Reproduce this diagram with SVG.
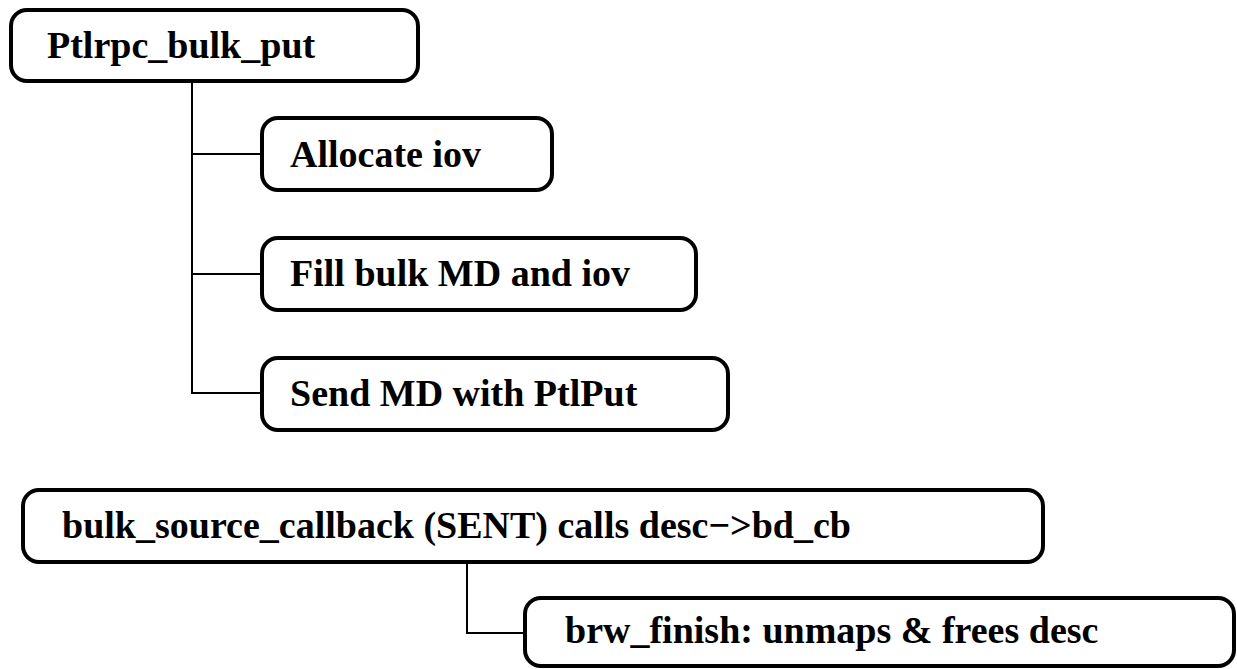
<svg xmlns="http://www.w3.org/2000/svg" width="1237" height="669" viewBox="0 0 1237 669">
<style>
.box{fill:#fff;stroke:#000;stroke-width:4}
.lbl{font-family:"Liberation Serif","Times New Roman",serif;font-weight:bold;font-size:38px;fill:#000}
.con{fill:none;stroke:#000;stroke-width:2}
</style>
<rect width="1237" height="669" fill="#fff"/>
<g id="connectors">
<path class="con" d="M192 82 V393 H262 M192 154 H262 M192 274 H262"/>
<path class="con" d="M467 562 V633 H525"/>
</g>
<g id="n1"><rect class="box" x="11" y="10" width="407" height="71" rx="16"/><text class="lbl" x="47" y="58">Ptlrpc_bulk_put</text></g>
<g id="n2"><rect class="box" x="262" y="118" width="290" height="72" rx="16"/><text class="lbl" x="290" y="167">Allocate iov</text></g>
<g id="n3"><rect class="box" x="262" y="238" width="434" height="72" rx="16"/><text class="lbl" x="290" y="286">Fill bulk MD and iov</text></g>
<g id="n4"><rect class="box" x="262" y="358" width="466" height="72" rx="16"/><text class="lbl" x="290" y="406">Send MD with PtlPut</text></g>
<g id="n5"><rect class="box" x="23" y="490" width="1020" height="72" rx="16"/><text class="lbl" x="62" y="538">bulk_source_callback (SENT) calls desc−&gt;bd_cb</text></g>
<g id="n6"><rect class="box" x="525" y="598" width="709" height="68" rx="16"/><text class="lbl" x="565" y="643">brw_finish: unmaps &amp; frees desc</text></g>
</svg>
